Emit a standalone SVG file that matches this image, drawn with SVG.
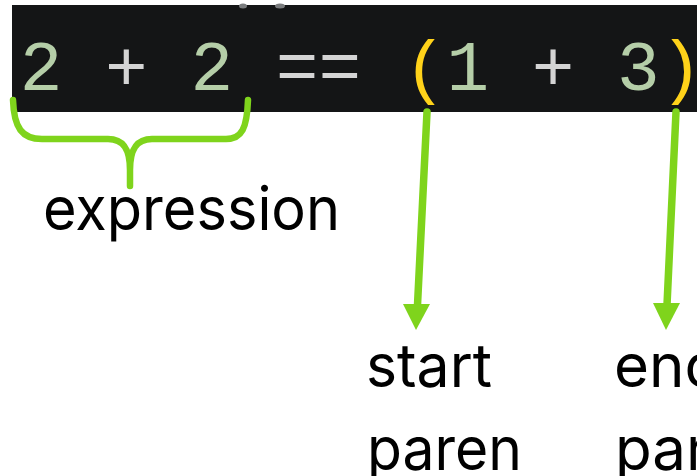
<svg xmlns="http://www.w3.org/2000/svg" width="697" height="476" viewBox="0 0 697 476">
  <style>
    .code { font-family: "Liberation Mono", "DejaVu Sans Mono", monospace; font-size: 71.1px; }
    .num { fill: #b5cea8; }
    .op { fill: #d4d4d4; }
    .paren { fill: #ffd21a; }
    .label { font-family: Inter, "Noto Sans", sans-serif; font-size: 60px; fill: #000000; }
    .green { stroke: #7fd41c; fill: none; stroke-linecap: round; stroke-linejoin: round; }
    .head { fill: #7fd41c; }
  </style>
  <rect width="697" height="476" fill="#ffffff"/>

  <!-- editor strip with the code line -->
  <g id="code">
    <rect x="12" y="5" width="685" height="107" fill="#141516"/>
    <ellipse cx="243" cy="6" rx="4" ry="2.5" fill="#7a7c7e"/>
    <ellipse cx="280" cy="6" rx="5" ry="2.5" fill="#7a7c7e"/>
    <text class="code" y="90">
      <tspan class="num" x="19.7">2</tspan>
      <tspan class="op" x="105.0">+</tspan>
      <tspan class="num" x="190.4">2</tspan>
      <tspan class="op" x="275.7">=</tspan>
      <tspan class="op" x="318.4">=</tspan>
      <tspan class="paren" x="403.7">(</tspan>
      <tspan class="num" x="446.4">1</tspan>
      <tspan class="op" x="531.7">+</tspan>
      <tspan class="num" x="617.1">3</tspan>
      <tspan class="paren" x="659.7">)</tspan>
    </text>
  </g>

  <!-- connectors: brace and the two pointer arrows -->
  <g id="connectors">
    <path class="green" stroke-width="6.5" d="M13,100 C14,128 22,139 42,139 L108,139 C124,139 130,150 130,170 L130,186 M130,170 C130,150 136,139 152,139 L226,139 C242,139 247,128 248,100"/>
    <line class="green" stroke-width="7.5" stroke-linecap="butt" x1="427" y1="112" x2="417.5" y2="305"/>
    <polygon class="head" points="403,304 430,304 416,330"/>
    <line class="green" stroke-width="7.5" stroke-linecap="butt" x1="676" y1="112" x2="667" y2="305"/>
    <polygon class="head" points="653,303 680,303 666,330"/>
  </g>

  <g id="expression">
    <text class="label" x="43" y="230" textLength="297" lengthAdjust="spacingAndGlyphs">expression</text>
  </g>
  <g id="start-paren">
    <text class="label" x="366" y="387" textLength="126" lengthAdjust="spacingAndGlyphs">start</text>
    <text class="label" x="367" y="470" textLength="155" lengthAdjust="spacingAndGlyphs">paren</text>
  </g>
  <g id="end-paren">
    <text class="label" x="614" y="387">end</text>
    <text class="label" x="615" y="470">paren</text>
  </g>
</svg>
